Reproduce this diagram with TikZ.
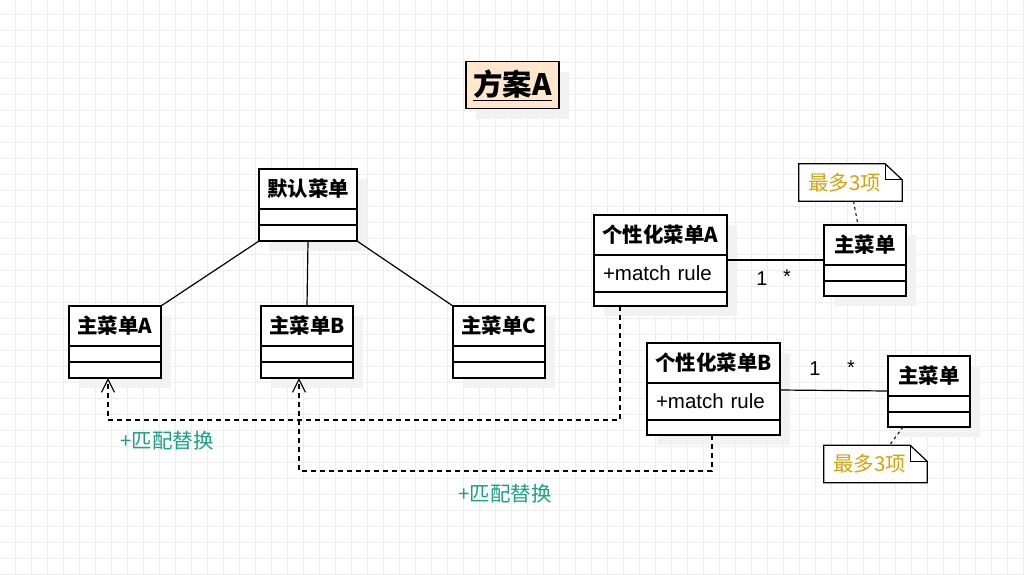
\documentclass[tikz,border=0pt]{standalone}
\usepackage{fontspec}
\setmainfont{Liberation Sans}
\newfontfamily\cjk{Noto Sans CJK SC}
\usepackage{tikz}
\usetikzlibrary{arrows.meta}
\usetikzlibrary{shadows}
\usetikzlibrary{positioning}

\definecolor{peach}{HTML}{FFE6CC}
\definecolor{matchteal}{HTML}{1AA086}
\definecolor{notegold}{HTML}{D6A20C}
\definecolor{gridgray}{HTML}{EDEDED}
\definecolor{shadowgray}{HTML}{F2F2F2}

\tikzset{
    box shadow/.style={drop shadow={shadow xshift=10pt, shadow yshift=-10pt, fill=shadowgray, opacity=1}},
    head/.style={draw=black, fill=white, line width=1.2pt, outer sep=0pt, inner sep=0pt,
        minimum width=#1, minimum height=40pt, font=\cjk\bfseries\fontsize{20.5}{24}\selectfont, box shadow},
    part/.style={draw=black, fill=white, line width=1.2pt, outer sep=0pt, inner sep=0pt,
        minimum width=#1, minimum height=16pt, box shadow},
    attr/.style={part=133pt, minimum height=37pt, text width=115pt, align=left, inner xsep=9pt,
        font=\fontsize{20.5}{24}\selectfont},
    mult/.style={font=\fontsize{20}{24}\selectfont},
    notebody/.style={fill=white, minimum width=103pt, minimum height=37pt, inner xsep=9pt, inner ysep=0pt,
        text width=85pt, align=left, text=notegold, font=\cjk\fontsize{20.5}{24}\selectfont},
    noteline/.style={draw=black, line width=1.2pt, line join=miter},
    notelink/.style={line width=1pt, dash pattern=on 3pt off 3pt},
    assoc/.style={line width=1.2pt},
    dep/.style={line width=1.2pt, dash pattern=on 5pt off 4pt, -{Straight Barb[length=13pt, width=13pt]}},
    deplabel/.style={text=matchteal, font=\cjk\fontsize{20.5}{24}\selectfont},
}

\begin{document}
\begin{tikzpicture}[x=1pt, y=-1pt]

    \useasboundingbox (0,0) rectangle (1024,574);
    \fill[white] (0,0) rectangle (1024,574);
    \begin{scope}
        \clip (0,0) rectangle (1024,574);
        \draw[gridgray, line width=1pt, shift={(15,14)}, step=16pt] (-16,-16) grid (1010,562);
    \end{scope}

    % title
    \node[draw=black, fill=peach, line width=1.2pt, minimum width=93pt, minimum height=47pt, inner sep=0pt,
        font=\cjk\bfseries\fontsize{29.5}{34}\selectfont, box shadow] (title) at (512.5,85) {\underline{方案A}};

    % default menu
    \node[head=98pt, anchor=north west] (dm) at (259,169) {默认菜单};
    \node[part=98pt, below=0pt of dm] (dm1) {};
    \node[part=98pt, below=0pt of dm1] (dm2) {};

    % main menus
    \node[head=92pt, anchor=north west] (mA) at (69,306) {主菜单A};
    \node[part=92pt, below=0pt of mA] (mA1) {};
    \node[part=92pt, below=0pt of mA1] (mA2) {};

    \node[head=92pt, anchor=north west] (mB) at (261,306) {主菜单B};
    \node[part=92pt, below=0pt of mB] (mB1) {};
    \node[part=92pt, below=0pt of mB1] (mB2) {};

    \node[head=92pt, anchor=north west] (mC) at (453,306) {主菜单C};
    \node[part=92pt, below=0pt of mC] (mC1) {};
    \node[part=92pt, below=0pt of mC1] (mC2) {};

    % personal menus
    \node[head=133pt, anchor=north west] (pA) at (594,215) {个性化菜单A};
    \node[attr, below=0pt of pA] (pA1) {+match rule};
    \node[part=133pt, minimum height=14pt, below=0pt of pA1] (pA2) {};

    \node[head=133pt, anchor=north west] (pB) at (647,343) {个性化菜单B};
    \node[attr, below=0pt of pB] (pB1) {+match rule};
    \node[part=133pt, minimum height=15pt, below=0pt of pB1] (pB2) {};

    \node[head=82pt, anchor=north west] (rA) at (824,225) {主菜单};
    \node[part=82pt, below=0pt of rA] (rA1) {};
    \node[part=82pt, minimum height=15pt, below=0pt of rA1] (rA2) {};

    \node[head=82pt, anchor=north west] (rB) at (888,356) {主菜单};
    \node[part=82pt, below=0pt of rB] (rB1) {};
    \node[part=82pt, minimum height=15pt, below=0pt of rB1] (rB2) {};

    % notes
    \node[notebody] (n1) at (850.5,182.5) {最多3项};
    \draw[noteline] (n1.north west) -- ([xshift=-17pt]n1.north east) -- ([yshift=-16pt]n1.north east)
        -- (n1.south east) -- (n1.south west) -- cycle;
    \draw[noteline] ([xshift=-17pt]n1.north east) -- ([xshift=-17pt, yshift=-16pt]n1.north east) -- ([yshift=-16pt]n1.north east);

    \node[notebody] (n2) at (875.5,464) {最多3项};
    \draw[noteline] (n2.north west) -- ([xshift=-17pt]n2.north east) -- ([yshift=-16pt]n2.north east)
        -- (n2.south east) -- (n2.south west) -- cycle;
    \draw[noteline] ([xshift=-17pt]n2.north east) -- ([xshift=-17pt, yshift=-16pt]n2.north east) -- ([yshift=-16pt]n2.north east);

    % connectors
    \draw[assoc] (dm2.south west) -- (mA.north east);
    \draw[assoc] (dm2.south) -- (mB.north);
    \draw[assoc] (dm2.south east) -- (mC.north west);

    \draw[assoc] ([yshift=-5pt]pA.south east) -- ([yshift=5pt]rA.south west);
    \node[mult] (oneA) at (762,279) {1};
    \node[mult] (manyA) at (787,277) {*};

    \draw[assoc] ([yshift=-7pt]pB.south east) -- ([yshift=5pt]rB.south west);
    \node[mult] (oneB) at (815,369) {1};
    \node[mult] (manyB) at (851,368) {*};

    \draw[notelink] ([xshift=3pt]n1.south) -- ([xshift=-7pt]rA.north);
    \draw[notelink] ([xshift=-26pt]rB2.south) -- ([xshift=14pt]n2.north);

    \draw[dep] ([xshift=26pt]pA2.south west) -- ++(0,114) -| ([xshift=39pt]mA2.south west);
    \node[deplabel] (repA) at (167,441) {+匹配替换};

    \draw[dep] ([xshift=65pt]pB2.south west) -- ++(0,36) -| ([xshift=38pt]mB2.south west);
    \node[deplabel] (repB) at (505,494) {+匹配替换};

\end{tikzpicture}
\end{document}
